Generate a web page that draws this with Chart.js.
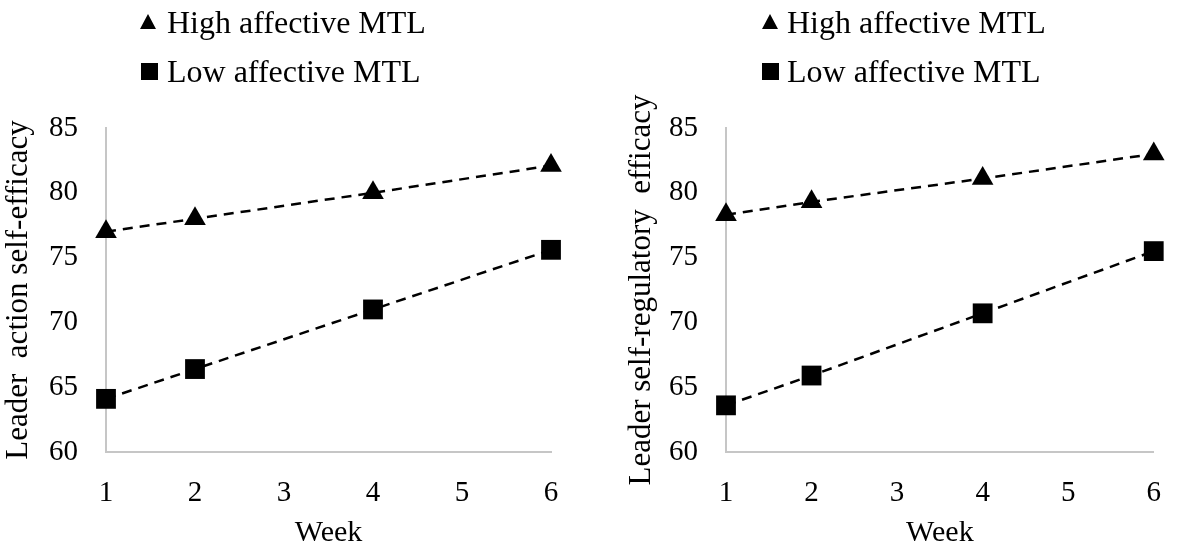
<!DOCTYPE html>
<html>
<head>
<meta charset="utf-8">
<script src="https://cdn.jsdelivr.net/npm/chart.js@4.4.1/dist/chart.umd.min.js"></script>
<style>
  html, body { margin: 0; padding: 0; background: #ffffff; }
  body { width: 1185px; height: 548px; position: relative; overflow: hidden; font-family: 'Liberation Serif', 'Times New Roman', serif; }
  .wrap { position: absolute; top: 0; height: 548px; }
  .leg { position: absolute; font-size: 32px; line-height: 32px; color: #000; white-space: nowrap; }
  .tri { position: absolute; width: 0; height: 0; border-left: 8px solid transparent; border-right: 8px solid transparent; border-bottom: 15px solid #000; }
  .sq { position: absolute; width: 17px; height: 17px; background: #000; }
</style>
</head>
<body>
<div class="wrap" style="left:0;width:590px;"><canvas id="c1" width="590" height="548"></canvas></div>
<div class="wrap" style="left:590px;width:595px;"><canvas id="c2" width="595" height="548"></canvas></div>

<div class="tri" style="left:140px;top:14px;"></div>
<div class="leg" style="left:167px;top:6px;" id="l1a"></div>
<div class="sq" style="left:141px;top:63px;"></div>
<div class="leg" style="left:167px;top:55px;" id="l1b"></div>

<div class="tri" style="left:762px;top:14px;"></div>
<div class="leg" style="left:787px;top:6px;" id="l2a"></div>
<div class="sq" style="left:762px;top:63px;"></div>
<div class="leg" style="left:787px;top:55px;" id="l2b"></div>

<script>
// ---- data ----
const weeks = [1, 2, 4, 6];
const seriesNames = ['High affective MTL', 'Low affective MTL'];
const actionHigh = [77.0, 78.0, 80.0, 82.1];
const actionLow  = [64.1, 66.4, 71.0, 75.6];
const regHigh    = [78.3, 79.3, 81.1, 83.0];
const regLow     = [63.6, 65.9, 70.7, 75.5];
const yTicks = [60, 65, 70, 75, 80, 85];
const xTicks = [1, 2, 3, 4, 5, 6];
const xTitle = 'Week';
const yTitle1 = 'Leader  action self-efficacy';
const yTitle2 = 'Leader self-regulatory  efficacy';

document.getElementById('l1a').textContent = seriesNames[0];
document.getElementById('l1b').textContent = seriesNames[1];
document.getElementById('l2a').textContent = seriesNames[0];
document.getElementById('l2b').textContent = seriesNames[1];

const FONT = "'Liberation Serif', 'Times New Roman', serif";

function pts(vals) { return weeks.map((w, i) => ({ x: w, y: vals[i] })); }

function makeChart(id, high, low, yTitle, yAxisWidth, padRight, titlePad) {
  return new Chart(document.getElementById(id), {
    type: 'line',
    data: {
      datasets: [
        { label: seriesNames[0], data: pts(high), borderColor: '#000', backgroundColor: '#000',
          borderWidth: 2.5, borderDash: [10, 7], pointStyle: 'triangle', pointRadius: 12.5,
          pointBorderWidth: 0, pointHoverRadius: 12.5, fill: false, tension: 0 },
        { label: seriesNames[1], data: pts(low), borderColor: '#000', backgroundColor: '#000',
          borderWidth: 2.5, borderDash: [10, 7], pointStyle: 'rect', pointRadius: 14,
          pointBorderWidth: 0, pointHoverRadius: 14, fill: false, tension: 0 }
      ]
    },
    options: {
      responsive: false,
      animation: false,
      events: [],
      clip: false,
      layout: { padding: { top: 128, right: padRight, bottom: 0, left: 0 } },
      plugins: { legend: { display: false }, tooltip: { enabled: false } },
      scales: {
        x: {
          type: 'linear', min: 1, max: 6,
          afterBuildTicks: (s) => { s.ticks = xTicks.map(v => ({ value: v })); },
          afterFit: (s) => { s.height = 96; },
          grid: { display: false, drawTicks: false },
          border: { display: true, color: '#c6c6c6', width: 2 },
          ticks: { color: '#000', font: { family: FONT, size: 29 }, padding: 24 },
          title: { display: true, text: xTitle, color: '#000', font: { family: FONT, size: 30, lineHeight: 1 }, padding: 0 }
        },
        y: {
          type: 'linear', min: 60, max: 85,
          afterBuildTicks: (s) => { s.ticks = yTicks.map(v => ({ value: v })); },
          afterFit: (s) => { s.width = yAxisWidth; },
          grid: { display: false, drawTicks: false },
          border: { display: true, color: '#c6c6c6', width: 2 },
          ticks: { color: '#000', font: { family: FONT, size: 29 }, padding: 28 },
          title: { display: true, text: yTitle, color: '#000', font: { family: FONT, size: 31, lineHeight: 1 }, padding: { top: titlePad, bottom: 0 } }
        }
      }
    }
  });
}

makeChart('c1', actionHigh, actionLow, yTitle1, 106, 39, 3);
makeChart('c2', regHigh, regLow, yTitle2, 136, 14, 36);
</script>
</body>
</html>
